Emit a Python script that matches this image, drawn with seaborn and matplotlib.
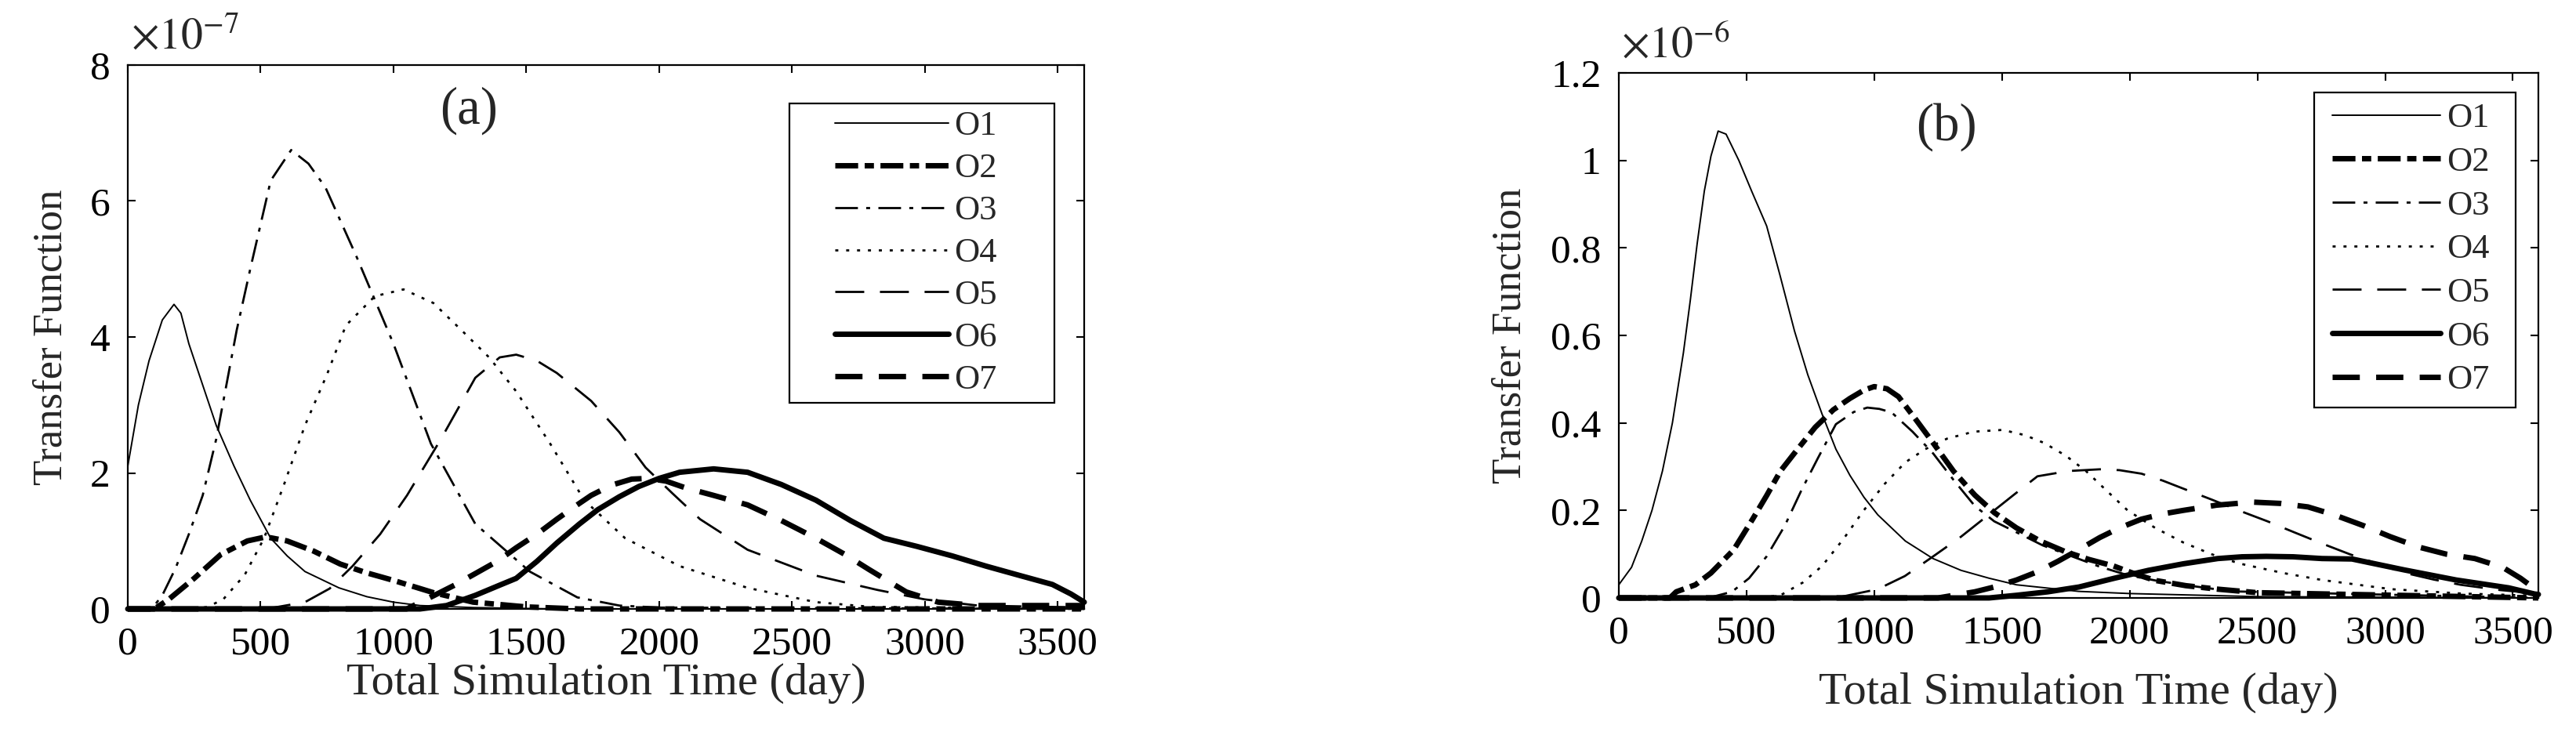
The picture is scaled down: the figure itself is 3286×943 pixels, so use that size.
import numpy as np
import pandas as pd
import matplotlib
matplotlib.use('Agg')
import matplotlib.pyplot as plt
from matplotlib.ticker import FuncFormatter, MultipleLocator
from matplotlib.patches import Rectangle
import seaborn as sns

# ---- panel (a) values, in units of 1e-7 ----
a_O1_t = [0, 40, 80, 130, 174, 200, 230, 290, 333, 400, 461, 538, 600, 667, 795, 900, 1000, 1100, 1300, 1600, 3600]
a_O1_v = [2.1, 3.0, 3.65, 4.25, 4.48, 4.35, 3.9, 3.2, 2.7, 2.1, 1.6, 1.04, 0.78, 0.55, 0.31, 0.18, 0.1, 0.05, 0.02, 0.0, 0.0]
a_O2_t = [0, 100, 154, 250, 350, 450, 520, 600, 700, 800, 900, 1000, 1150, 1300, 1500, 1700, 3600]
a_O2_v = [0, 0, 0.14, 0.45, 0.8, 1.0, 1.06, 1.0, 0.85, 0.66, 0.53, 0.42, 0.24, 0.1, 0.03, 0, 0]
a_O3_t = [0, 90, 130, 180, 230, 282, 333, 410, 461, 538, 615, 680, 744, 859, 1000, 1141, 1308, 1513, 1692, 1850, 2000, 3600]
a_O3_v = [0, 0, 0.2, 0.6, 1.1, 1.67, 2.5, 4.1, 5.0, 6.3, 6.75, 6.55, 6.2, 5.2, 3.9, 2.43, 1.25, 0.55, 0.17, 0.05, 0.02, 0]
a_O4_t = [0, 250, 300, 359, 440, 513, 590, 667, 750, 821, 930, 1038, 1150, 1256, 1360, 1462, 1590, 1718, 1872, 2077, 2333, 2590, 2800, 3600]
a_O4_v = [0, 0, 0.03, 0.14, 0.5, 1.04, 1.85, 2.7, 3.45, 4.17, 4.6, 4.7, 4.5, 4.1, 3.7, 3.2, 2.43, 1.6, 1.04, 0.63, 0.31, 0.1, 0.03, 0]
a_O5_t = [0, 450, 550, 667, 760, 846, 950, 1051, 1179, 1308, 1400, 1462, 1540, 1615, 1744, 1850, 1949, 2050, 2154, 2333, 2590, 2821, 3000, 3200, 3600]
a_O5_v = [0, 0, 0.02, 0.1, 0.3, 0.63, 1.1, 1.67, 2.5, 3.4, 3.7, 3.74, 3.65, 3.47, 3.06, 2.6, 2.08, 1.7, 1.32, 0.87, 0.49, 0.28, 0.14, 0.05, 0.02]
a_O6_t = [0, 1100, 1200, 1308, 1400, 1462, 1540, 1615, 1700, 1769, 1850, 1923, 2000, 2077, 2205, 2333, 2460, 2590, 2720, 2846, 2970, 3103, 3230, 3359, 3480, 3550, 3600]
a_O6_v = [0, 0, 0.05, 0.2, 0.35, 0.45, 0.7, 0.97, 1.25, 1.46, 1.65, 1.8, 1.92, 2.01, 2.06, 2.01, 1.83, 1.6, 1.3, 1.04, 0.92, 0.78, 0.63, 0.49, 0.36, 0.22, 0.1]
a_O7_t = [0, 1050, 1154, 1230, 1308, 1390, 1462, 1540, 1615, 1680, 1744, 1820, 1897, 1960, 2026, 2100, 2205, 2333, 2460, 2590, 2700, 2790, 2930, 3050, 3200, 3600]
a_O7_v = [0, 0, 0.2, 0.35, 0.52, 0.7, 0.9, 1.1, 1.32, 1.5, 1.67, 1.82, 1.91, 1.92, 1.88, 1.78, 1.67, 1.53, 1.3, 1.04, 0.8, 0.58, 0.25, 0.1, 0.05, 0.05]

# ---- panel (b) values, in units of 1e-6 ----
b_O1_t = [0, 50, 90, 130, 171, 210, 253, 280, 307, 335, 361, 389, 420, 470, 520, 579, 630, 688, 740, 796, 850, 905, 960, 1014, 1122, 1230, 1340, 1450, 1557, 1800, 2000, 2500, 3600]
b_O1_v = [0.03, 0.07, 0.13, 0.2, 0.29, 0.4, 0.56, 0.68, 0.81, 0.93, 1.01, 1.067, 1.06, 1.0, 0.93, 0.85, 0.74, 0.61, 0.51, 0.42, 0.34, 0.28, 0.23, 0.19, 0.13, 0.09, 0.063, 0.045, 0.03, 0.015, 0.01, 0.003, 0]
b_O2_t = [0, 200, 225, 300, 361, 450, 524, 580, 633, 700, 769, 840, 905, 960, 1000, 1050, 1095, 1160, 1231, 1310, 1394, 1470, 1557, 1650, 1747, 1840, 1937, 2020, 2100, 2220, 2345, 2500, 3600]
b_O2_v = [0, 0, 0.014, 0.03, 0.057, 0.11, 0.18, 0.235, 0.29, 0.34, 0.39, 0.43, 0.456, 0.475, 0.483, 0.478, 0.46, 0.41, 0.354, 0.29, 0.235, 0.195, 0.16, 0.13, 0.106, 0.088, 0.073, 0.055, 0.04, 0.028, 0.02, 0.012, 0]
b_O3_t = [0, 350, 443, 510, 579, 650, 715, 780, 850, 920, 973, 1020, 1068, 1150, 1231, 1310, 1394, 1470, 1557, 1660, 1774, 1880, 1992, 2100, 2209, 2400, 3600]
b_O3_v = [0, 0, 0.014, 0.045, 0.095, 0.165, 0.246, 0.32, 0.397, 0.425, 0.435, 0.432, 0.424, 0.38, 0.33, 0.27, 0.21, 0.175, 0.15, 0.12, 0.095, 0.072, 0.052, 0.04, 0.03, 0.015, 0]
b_O4_t = [0, 550, 633, 720, 796, 880, 959, 1040, 1122, 1200, 1285, 1390, 1503, 1590, 1666, 1750, 1829, 1910, 1992, 2100, 2209, 2320, 2427, 2600, 2753, 3024, 3300, 3600]
b_O4_v = [0, 0, 0.006, 0.035, 0.073, 0.135, 0.2, 0.26, 0.31, 0.34, 0.364, 0.38, 0.384, 0.372, 0.354, 0.325, 0.29, 0.245, 0.2, 0.16, 0.127, 0.1, 0.079, 0.057, 0.041, 0.02, 0.01, 0.005]
b_O5_t = [0, 850, 1014, 1120, 1231, 1340, 1448, 1545, 1639, 1760, 1883, 1960, 2046, 2130, 2209, 2320, 2427, 2540, 2644, 2750, 2861, 2970, 3079, 3190, 3296, 3450, 3600]
b_O5_v = [0, 0, 0.02, 0.05, 0.095, 0.14, 0.19, 0.235, 0.278, 0.29, 0.294, 0.292, 0.284, 0.268, 0.25, 0.225, 0.2, 0.175, 0.15, 0.125, 0.1, 0.078, 0.057, 0.042, 0.03, 0.018, 0.01]
b_O6_t = [0, 1450, 1557, 1680, 1802, 1940, 2073, 2210, 2345, 2440, 2535, 2640, 2753, 2870, 3075, 3278, 3484, 3585, 3600]
b_O6_v = [0, 0, 0.006, 0.014, 0.025, 0.045, 0.063, 0.078, 0.09, 0.094, 0.095, 0.094, 0.09, 0.089, 0.064, 0.041, 0.023, 0.009, 0.008]
b_O7_t = [0, 1250, 1394, 1470, 1557, 1640, 1720, 1800, 1883, 1960, 2046, 2130, 2209, 2340, 2481, 2590, 2698, 2800, 2916, 3020, 3133, 3240, 3351, 3460, 3530, 3600]
b_O7_v = [0, 0, 0.014, 0.025, 0.041, 0.06, 0.084, 0.11, 0.138, 0.16, 0.18, 0.192, 0.2, 0.212, 0.219, 0.216, 0.208, 0.19, 0.165, 0.14, 0.116, 0.1, 0.09, 0.07, 0.045, 0.015]

names = ['O1', 'O2', 'O3', 'O4', 'O5', 'O6', 'O7']
panel_a = [(a_O1_t, a_O1_v), (a_O2_t, a_O2_v), (a_O3_t, a_O3_v), (a_O4_t, a_O4_v),
           (a_O5_t, a_O5_v), (a_O6_t, a_O6_v), (a_O7_t, a_O7_v)]
panel_b = [(b_O1_t, b_O1_v), (b_O2_t, b_O2_v), (b_O3_t, b_O3_v), (b_O4_t, b_O4_v),
           (b_O5_t, b_O5_v), (b_O6_t, b_O6_v), (b_O7_t, b_O7_v)]

# line styles (widths in pt, dashes in units of linewidth)
styles = {
    'O1': dict(lw=1.4, ls='-'),
    'O2': dict(lw=5.0, ls=(0, (4.2, 1.2, 1.7, 1.2))),
    'O3': dict(lw=2.0, ls=(0, (10.4, 3.8, 1.8, 3.8))),
    'O4': dict(lw=2.0, ls=(0, (1.4, 3.6))),
    'O5': dict(lw=2.0, ls=(0, (13.3, 7.2))),
    'O6': dict(lw=5.0, ls='-'),
    'O7': dict(lw=5.0, ls=(0, (5.0, 3.0))),
}

sns.set_theme(style='ticks')
plt.rcParams['font.family'] = ['Liberation Serif', 'DejaVu Serif']
plt.rcParams['mathtext.fontset'] = 'stix'
plt.rcParams['axes.linewidth'] = 1.6

fig = plt.figure(figsize=(32.86, 9.43), dpi=100)
fig.patch.set_facecolor('white')

ax_a = fig.add_axes([0.0496, 0.176, 0.3713, 0.736])
ax_b = fig.add_axes([0.6284, 0.1909, 0.357, 0.7105])

configs = [
    dict(ax=ax_a, data=panel_a, ymax=8, ystep=2, tag='(a)', exp=r'$\times10^{-7}$',
         ylab_x=-0.080, xlab_y=-0.137, leg_anchor=(0.739, 0.916), frame=(0.692, 0.379, 0.969, 0.929),
         hlen=3.26, lspace=0.31, tagpos=(0.357, 0.916)),
    dict(ax=ax_b, data=panel_b, ymax=1.2, ystep=0.2, tag='(b)', exp=r'$\times10^{-6}$',
         ylab_x=-0.118, xlab_y=-0.181, leg_anchor=(0.776, 0.943), frame=(0.756, 0.363, 0.975, 0.963),
         hlen=3.1, lspace=0.35, tagpos=(0.356, 0.897)),
]

for cfg in configs:
    ax = cfg['ax']
    for name, (t, v) in zip(names, cfg['data']):
        df = pd.DataFrame({'Total Simulation Time (day)': t, 'Transfer Function': v})
        st = styles[name]
        sns.lineplot(data=df, x='Total Simulation Time (day)', y='Transfer Function', ax=ax,
                     color='black', linewidth=st['lw'], linestyle=st['ls'], label=name,
                     errorbar=None, sort=False, clip_on=False)
    ax.set_xlim(0, 3600)
    ax.set_ylim(0, cfg['ymax'])
    ax.xaxis.set_major_locator(MultipleLocator(500))
    ax.yaxis.set_major_locator(MultipleLocator(cfg['ystep']))
    ax.yaxis.set_major_formatter(FuncFormatter(lambda val, pos: f'{val:g}'))
    ax.tick_params(direction='in', top=True, right=True, length=7, width=1.5,
                   labelsize=37, pad=16, colors='black')
    for sp in ax.spines.values():
        sp.set_visible(True)
        sp.set_color('black')
        sp.set_linewidth(1.6)

    ax.set_xlabel('Total Simulation Time (day)', fontsize=42)
    ax.set_ylabel('Transfer Function', fontsize=38)
    ax.xaxis.set_label_coords(0.5, cfg['xlab_y'])
    ax.xaxis.label.set_va('center')
    ax.yaxis.set_label_coords(cfg['ylab_x'], 0.5)
    ax.yaxis.label.set_va('center')

    ax.text(0.003, 1.012, cfg['exp'], transform=ax.transAxes, ha='left', va='bottom', fontsize=40)
    ax.text(cfg['tagpos'][0], cfg['tagpos'][1], cfg['tag'], transform=ax.transAxes,
            ha='center', va='center', fontsize=48)

    handles, labels = ax.get_legend_handles_labels()
    ax.legend(handles, labels, loc='upper left', bbox_to_anchor=cfg['leg_anchor'],
              frameon=False, borderpad=0, fontsize=32, handlelength=cfg['hlen'],
              handletextpad=0.18, labelspacing=cfg['lspace'], borderaxespad=0)
    x0, y0, x1, y1 = cfg['frame']
    ax.add_patch(Rectangle((x0, y0), x1 - x0, y1 - y0, transform=ax.transAxes, fill=False,
                           edgecolor='black', linewidth=1.6, clip_on=False, zorder=5))

fig.savefig('out.png', dpi=100, facecolor='white')
